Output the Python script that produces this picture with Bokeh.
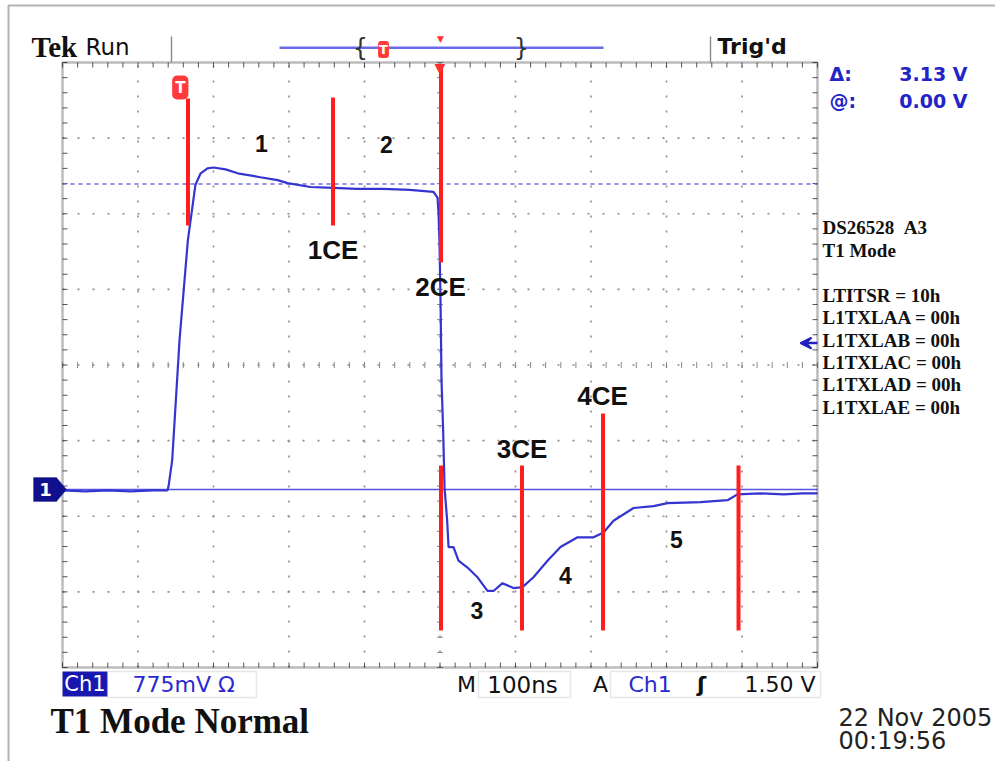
import numpy as np
from bokeh.plotting import figure
from bokeh.models import (Range1d, Label, BoxAnnotation, PolyAnnotation, Arrow, VeeHead)
from bokeh.embed import file_html
from bokeh.resources import INLINE

# ---------------- scope settings ----------------
NS_PER_DIV = 100          # M 100ns
V_PER_DIV = 0.775         # Ch1 775mV
GROUND_DIV = -1.646       # ground marker "1", divisions from screen centre
CURSOR_A = 3.13           # delta cursor
CURSOR_B = 0.00           # @ cursor
TRIG_LEVEL = 1.50         # A Ch1 rising 1.50 V
TRIG_T = -344             # trigger point on screen (ns from centre)

# ---------------- trace (ns, V) ----------------
time_ns = [-500, -470, -440, -410, -380, -361, -359.6, -354.7, -345, -334, -324, -317, -308,
           -300, -284, -268, -238, -215, -202, -171.5, -141, -110, -75, -40, -8.6, -3.3, -2.0,
           -0.7, 0.7, 2.0, 4.2, 6.0, 9.5, 11.3, 17.9, 24.5, 36.4, 49.7, 62.9, 70.9, 82.8, 97.4,
           109.3, 123.8, 142.4, 159.6, 182.1, 203.3, 216.6, 229.8, 256.3, 282.8, 301.4, 345,
           380.8, 394, 424.5, 455, 480, 500]
volts = [-0.01, -0.02, -0.01, -0.02, -0.01, -0.01, 0.03, 0.30, 1.53, 2.55, 3.12, 3.24, 3.29,
         3.30, 3.28, 3.24, 3.20, 3.17, 3.14, 3.10, 3.09, 3.08, 3.08, 3.07, 3.05, 2.99, 2.84,
         2.55, 1.94, 1.12, 0.60, 0.02, -0.32, -0.59, -0.59, -0.73, -0.80, -0.90, -1.04, -1.04,
         -0.96, -1.01, -1.00, -0.90, -0.73, -0.59, -0.49, -0.49, -0.44, -0.32, -0.19, -0.17,
         -0.14, -0.13, -0.11, -0.05, -0.04, -0.05, -0.04, -0.04]

# ---------------- template corner markers ----------------
marker_t = [-333.8, -141.7, 1.3, 1.3, 108.6, 215.9, 395.4]
marker_v_low = [2.705, 2.705, 2.326, -1.445, -1.445, -1.445, -1.445]
marker_v_high = [4.007, 4.017, 4.355, 0.246, 0.246, 0.779, 0.246]

region_text = ["1", "2", "1CE", "2CE", "3CE", "4CE", "3", "4", "5"]
region_t = [-236.4, -70.9, -141.7, 0.7, 108.6, 215.2, 49.0, 166.2, 313.2]
region_v = [3.546, 3.535, 2.454, 2.075, 0.415, 0.963, -1.240, -0.881, -0.512]

info_lines = ["DS26528\u00a0\u00a0A3", "T1 Mode", "LTITSR = 10h", "L1TXLAA = 00h",
              "L1TXLAB = 00h", "L1TXLAC = 00h", "L1TXLAD = 00h", "L1TXLAE = 00h"]

# ---------------- geometry helpers (layout only) ----------------
W, H = 995, 761
V_CENTER = -GROUND_DIV * V_PER_DIV
FX0, FX1, FY0, FY1 = 62, 817, 62, 667          # screen graticule in canvas pixels
CX = (FX0 + FX1) / 2
CY = (FY0 + FY1) / 2
NS_PX = NS_PER_DIV / ((FX1 - FX0) / 10)       # ns per pixel
V_PX = V_PER_DIV / ((FY1 - FY0) / 8)          # volts per pixel


def tx(px):
    return (px - CX) * NS_PX


def vy(py):
    return V_CENTER + (CY - py) * V_PX


T_L, T_R = -5 * NS_PER_DIV, 5 * NS_PER_DIV
V_B, V_T = V_CENTER - 4 * V_PER_DIV, V_CENTER + 4 * V_PER_DIV

p = figure(width=W, height=H, output_backend="svg", toolbar_location=None,
           x_range=Range1d(tx(0), tx(W)), y_range=Range1d(vy(H), vy(0)),
           min_border=0, x_axis_location=None, y_axis_location=None)
p.background_fill_color = "white"
p.border_fill_color = "white"
p.outline_line_color = None
p.grid.visible = False

# ---------------- graticule ----------------
x_major = np.arange(-5, 6) * NS_PER_DIV
x_minor = np.arange(-25, 26) * NS_PER_DIV / 5
y_major = V_CENTER + np.arange(-4, 5) * V_PER_DIV
y_minor = V_CENTER + np.arange(-20, 21) * V_PER_DIV / 5

# dotted grid
p.segment(x0=x_major[1:-1], y0=V_B, x1=x_major[1:-1], y1=V_T,
          line_color="#8c8c8c", line_width=1.6, line_dash="2 13")
p.segment(x0=T_L, y0=y_major[1:-1], x1=T_R, y1=y_major[1:-1],
          line_color="#8c8c8c", line_width=1.6, line_dash="2 13")

# ticks along the frame edges (pointing inward) and across the centre lines
TK = 5
p.segment(x0=x_minor, y0=V_T, x1=x_minor, y1=V_T - TK * V_PX, line_color="#555555", line_width=1)
p.segment(x0=x_minor, y0=V_B, x1=x_minor, y1=V_B + TK * V_PX, line_color="#555555", line_width=1)
p.segment(x0=T_L, y0=y_minor, x1=T_L + TK * NS_PX, y1=y_minor, line_color="#555555", line_width=1)
p.segment(x0=T_R, y0=y_minor, x1=T_R - TK * NS_PX, y1=y_minor, line_color="#555555", line_width=1)
p.segment(x0=x_minor, y0=V_CENTER - 3 * V_PX, x1=x_minor, y1=V_CENTER + 3 * V_PX,
          line_color="#888888", line_width=1)
p.segment(x0=-3 * NS_PX, y0=y_minor, x1=3 * NS_PX, y1=y_minor, line_color="#888888", line_width=1)

# frame
p.add_layout(BoxAnnotation(left=T_L, right=T_R, bottom=V_B, top=V_T, fill_alpha=0,
                           line_color="#222222", line_width=2.5))

# cursors
p.segment(x0=T_L, y0=CURSOR_B, x1=T_R, y1=CURSOR_B, line_color="#5555e0", line_width=1.5)
p.segment(x0=T_L, y0=CURSOR_A, x1=T_R, y1=CURSOR_A, line_color="#6c6ce8", line_width=1.5,
          line_dash="4 4")

# trace
p.line(time_ns, volts, line_color="#3434d0", line_width=2.2)

# template markers
p.segment(x0=marker_t, y0=marker_v_low, x1=marker_t, y1=marker_v_high,
          line_color="#ff1e1e", line_width=4)

for txt, t, v in zip(region_text, region_t, region_v):
    p.add_layout(Label(x=t, y=v, text=txt, text_align="center", text_baseline="middle",
                       text_font="Liberation Sans", text_font_style="bold",
                       text_font_size="26px" if len(txt) > 1 else "23px", text_color="#111111"))

# trigger level arrow
p.add_layout(Arrow(x_start=T_R, y_start=TRIG_LEVEL, x_end=T_R - 17 * NS_PX,
                   y_end=TRIG_LEVEL, line_color="#2020c0", line_width=2.5,
                   end=VeeHead(size=11, line_color="#2020c0", line_width=2, fill_color="#2020c0")))

# trigger point marker and horizontal position marker
p.add_layout(Label(x=TRIG_T, y=vy(87), text="T", text_align="center", text_baseline="middle",
                   text_font="DejaVu Sans", text_font_style="bold", text_font_size="15px",
                   text_color="white", background_fill_color="#ff3a3a",
                   border_radius=5, padding=3))
p.add_layout(Label(x=0, y=vy(67), text="▼", text_align="center", text_baseline="middle",
                   text_font="DejaVu Sans", text_font_size="14px", text_color="#ff3030"))

# ---------------- outside decorations ----------------
p.add_layout(BoxAnnotation(left=tx(8), right=tx(1300), top=vy(5), bottom=vy(1000),
                           fill_alpha=0, line_color="black", line_width=2))


def lab(x, y, text, size, font="DejaVu Sans", style="normal", color="#111111", align="left"):
    p.add_layout(Label(x=tx(x), y=vy(y), text=text, text_align=align, text_baseline="middle",
                       text_font=font, text_font_size=size, text_font_style=style,
                       text_color=color))


lab(31, 46, "Tek", "29px", font="Liberation Serif", style="bold")
lab(85, 46, "Run", "23px")
lab(717, 46, "Trig'd", "22px", style="bold")
for gx in (171, 710):
    p.add_layout(BoxAnnotation(left=tx(gx - 0.7), right=tx(gx + 0.7), top=vy(36), bottom=vy(62),
                               fill_color="#888888", fill_alpha=1, line_alpha=0))
p.add_layout(BoxAnnotation(left=tx(279), right=tx(603), top=vy(46), bottom=vy(48.5),
                           fill_color="#6a6ae8", fill_alpha=1, line_alpha=0))
lab(360, 47, "{", "24px", color="#333333", align="center")
lab(521, 47, "}", "24px", color="#333333", align="center")
p.add_layout(Label(x=tx(383), y=vy(49), text="T", text_align="center", text_baseline="middle",
                   text_font="DejaVu Sans", text_font_style="bold", text_font_size="13px",
                   text_color="white", background_fill_color="#ff3a3a", border_radius=3,
                   padding=1))
lab(440, 38, "▼", "9px", color="#ff3030", align="center")

lab(829, 73, "Δ:", "19px", style="bold", color="#2323c8")
lab(967, 73, f"{CURSOR_A:.2f} V", "19px", style="bold", color="#2323c8", align="right")
lab(829, 100, "@:", "19px", style="bold", color="#2323c8")
lab(967, 100, f"{CURSOR_B:.2f} V", "19px", style="bold", color="#2323c8", align="right")

for line, ys in zip(info_lines, [227, 250, 295, 317, 340, 362, 384, 407]):
    lab(822, ys, line, "19px", font="Liberation Serif", style="bold")

# ground marker
p.add_layout(PolyAnnotation(xs=[tx(33), tx(56), tx(66), tx(56), tx(33)],
                            ys=[vy(477), vy(477), vy(489), vy(501), vy(501)],
                            fill_color="#10108c", fill_alpha=1, line_color="#10108c"))
lab(45, 489, "1", "18px", style="bold", color="white", align="center")

# bottom status bar
p.add_layout(BoxAnnotation(left=tx(62), right=tx(107), top=vy(671), bottom=vy(696),
                           fill_color="#1818b0", fill_alpha=1, line_alpha=0))
lab(84.5, 683, "Ch1", "21px", color="white", align="center")
p.add_layout(BoxAnnotation(left=tx(107), right=tx(256), top=vy(671), bottom=vy(697),
                           fill_alpha=0, line_color="#b0b0b0", line_width=1.5))
lab(132, 684, f"{int(round(V_PER_DIV * 1000))}mV Ω", "22px", color="#2a2ad0")
lab(466, 684, "M", "22px", align="center")
p.add_layout(BoxAnnotation(left=tx(478), right=tx(570), top=vy(671), bottom=vy(697),
                           fill_alpha=0, line_color="#b0b0b0", line_width=1.5))
lab(522, 684, f"{NS_PER_DIV}ns", "23px", align="center")
lab(600, 684, "A", "22px", align="center")
p.add_layout(BoxAnnotation(left=tx(610), right=tx(820), top=vy(671), bottom=vy(697),
                           fill_alpha=0, line_color="#b0b0b0", line_width=1.5))
lab(628, 684, "Ch1", "22px", color="#2a2ad0")
lab(701, 684, "ʃ", "22px", style="bold", align="center")
lab(815, 684, f"{TRIG_LEVEL:.2f} V", "22px", align="right")

lab(50, 721, "T1 Mode Normal", "35px", font="Liberation Serif", style="bold")
lab(838, 717, "22 Nov 2005", "24px", color="#222222")
lab(838, 740, "00:19:56", "24px", color="#222222")

open("out.html", "w").write(file_html(p, INLINE))
